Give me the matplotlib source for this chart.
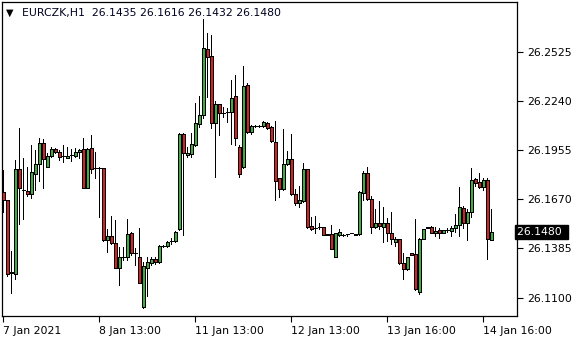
import numpy as np
import matplotlib.pyplot as plt
from matplotlib.transforms import blended_transform_factory

# EURCZK H1, bars (open, high, low, close)
opens = [26.1712, 26.1666, 26.1243, 26.1237, 26.1846, 26.1724, 26.1718, 26.1701, 26.1817, 26.1875,
         26.1996, 26.1857, 26.1921, 26.1962, 26.1944, 26.1921, 26.1910, 26.1927, 26.1921, 26.1944,
         26.1962, 26.1736, 26.1967, 26.1852, 26.1852, 26.1852, 26.1434, 26.1457, 26.1417, 26.1271,
         26.1335, 26.1335, 26.1475, 26.1358, 26.1335, 26.1045, 26.1271, 26.1300, 26.1324, 26.1306,
         26.1399, 26.1399, 26.1428, 26.1428, 26.1498, 26.2049, 26.1927, 26.1933, 26.1985, 26.2107,
         26.2159, 26.2541, 26.2501, 26.2112, 26.2223, 26.2170, 26.2176, 26.2176, 26.2269, 26.1973,
         26.1857, 26.2333, 26.2060, 26.2095, 26.2095, 26.2095, 26.2112, 26.2089, 26.2002, 26.1793,
         26.1730, 26.1875, 26.1904, 26.1701, 26.1649, 26.1660, 26.1846, 26.1515, 26.1504, 26.1509,
         26.1509, 26.1469, 26.1469, 26.1335, 26.1463, 26.1463, 26.1469, 26.1475, 26.1469, 26.1469,
         26.1707, 26.1823, 26.1672, 26.1509, 26.1533, 26.1509, 26.1533, 26.1475, 26.1422, 26.1440,
         26.1300, 26.1266, 26.1358, 26.1353, 26.1132, 26.1440, 26.1509, 26.1509, 26.1475, 26.1492,
         26.1475, 26.1492, 26.1486, 26.1503, 26.1521, 26.1620, 26.1533, 26.1596, 26.1788, 26.1770,
         26.1741, 26.1782, 26.1435]
highs = [26.1840, 26.1668, 26.1370, 26.1898, 26.2084, 26.1910, 26.1857, 26.1985, 26.1956, 26.2025,
         26.2019, 26.1939, 26.1973, 26.1967, 26.1956, 26.1985, 26.1973, 26.1962, 26.1967, 26.1962,
         26.2025, 26.1967, 26.2043, 26.1944, 26.1857, 26.1853, 26.1498, 26.1573, 26.1550, 26.1393,
         26.1393, 26.1556, 26.1480, 26.1387, 26.1504, 26.1306, 26.1335, 26.1335, 26.1335, 26.1405,
         26.1404, 26.1428, 26.1446, 26.1486, 26.2054, 26.2054, 26.1973, 26.2054, 26.2228, 26.2269,
         26.2715, 26.2634, 26.2623, 26.2240, 26.2224, 26.2205, 26.2199, 26.2362, 26.2391, 26.1985,
         26.2443, 26.2344, 26.2101, 26.2101, 26.2101, 26.2124, 26.2118, 26.2095, 26.2124, 26.1794,
         26.2078, 26.1950, 26.2049, 26.1730, 26.1747, 26.1881, 26.1847, 26.1567, 26.1573, 26.1533,
         26.1510, 26.1470, 26.1521, 26.1476, 26.1498, 26.1466, 26.1470, 26.1477, 26.1470, 26.1718,
         26.1834, 26.1857, 26.1689, 26.1614, 26.1660, 26.1625, 26.1562, 26.1596, 26.1451, 26.1442,
         26.1358, 26.1337, 26.1360, 26.1556, 26.1446, 26.1500, 26.1510, 26.1515, 26.1509, 26.1503,
         26.1493, 26.1503, 26.1515, 26.1585, 26.1741, 26.1631, 26.1614, 26.1852, 26.1794, 26.1823,
         26.1794, 26.1794, 26.1616]
lows = [26.1596, 26.1225, 26.1127, 26.1208, 26.1527, 26.1556, 26.1689, 26.1678, 26.1724, 26.1776,
        26.1736, 26.1855, 26.1915, 26.1939, 26.1898, 26.1886, 26.1908, 26.1892, 26.1915, 26.1910,
        26.1734, 26.1734, 26.1823, 26.1794, 26.1567, 26.1428, 26.1364, 26.1411, 26.1269, 26.1173,
        26.1318, 26.1318, 26.1347, 26.1289, 26.1182, 26.1039, 26.1109, 26.1289, 26.1295, 26.1300,
        26.1396, 26.1393, 26.1411, 26.1422, 26.1492, 26.1463, 26.1915, 26.1915, 26.1979, 26.2089,
        26.2141, 26.2263, 26.2083, 26.1799, 26.2043, 26.2147, 26.2118, 26.1991, 26.1985, 26.1799,
        26.1852, 26.2054, 26.2049, 26.2090, 26.2090, 26.2089, 26.2080, 26.2002, 26.1666, 26.1683,
        26.1724, 26.1869, 26.1695, 26.1637, 26.1625, 26.1654, 26.1503, 26.1492, 26.1475, 26.1498,
        26.1462, 26.1460, 26.1380, 26.1333, 26.1457, 26.1459, 26.1457, 26.1472, 26.1460, 26.1463,
        26.1666, 26.1666, 26.1475, 26.1503, 26.1498, 26.1422, 26.1428, 26.1411, 26.1399, 26.1295,
        26.1208, 26.1260, 26.1345, 26.1144, 26.1121, 26.1439, 26.1501, 26.1474, 26.1457, 26.1446,
        26.1474, 26.1480, 26.1457, 26.1480, 26.1457, 26.1503, 26.1434, 26.1567, 26.1747, 26.1736,
        26.1724, 26.1323, 26.1432]
closes = [26.1666, 26.1237, 26.1248, 26.1846, 26.1736, 26.1722, 26.1701, 26.1828, 26.1875, 26.1996,
          26.1904, 26.1921, 26.1962, 26.1944, 26.1915, 26.1920, 26.1921, 26.1928, 26.1944, 26.1956,
          26.1736, 26.1962, 26.1846, 26.1850, 26.1850, 26.1434, 26.1457, 26.1417, 26.1271, 26.1335,
          26.1337, 26.1469, 26.1358, 26.1356, 26.1184, 26.1283, 26.1306, 26.1324, 26.1306, 26.1399,
          26.1400, 26.1422, 26.1429, 26.1480, 26.2049, 26.1939, 26.1939, 26.1991, 26.2112, 26.2159,
          26.2547, 26.2495, 26.2112, 26.2223, 26.2170, 26.2171, 26.2177, 26.2257, 26.2025, 26.1817,
          26.2327, 26.2060, 26.2095, 26.2096, 26.2096, 26.2118, 26.2083, 26.2008, 26.1776, 26.1730,
          26.1875, 26.1904, 26.1701, 26.1649, 26.1666, 26.1846, 26.1509, 26.1498, 26.1503, 26.1508,
          26.1463, 26.1463, 26.1382, 26.1475, 26.1480, 26.1462, 26.1468, 26.1474, 26.1463, 26.1712,
          26.1823, 26.1672, 26.1509, 26.1533, 26.1515, 26.1533, 26.1475, 26.1440, 26.1440, 26.1300,
          26.1266, 26.1335, 26.1347, 26.1150, 26.1440, 26.1498, 26.1503, 26.1475, 26.1486, 26.1475,
          26.1492, 26.1493, 26.1503, 26.1521, 26.1625, 26.1533, 26.1596, 26.1782, 26.1765, 26.1741,
          26.1782, 26.1440, 26.1480]

price_ticks = [26.1100, 26.1385, 26.1670, 26.1955, 26.2240, 26.2525]
time_tick_bars = [0, 24, 48, 72, 96, 120]
time_labels = ["7 Jan 2021", "8 Jan 13:00", "11 Jan 13:00", "12 Jan 13:00", "13 Jan 16:00", "14 Jan 16:00"]
symbol = "EURCZK,H1"

o = np.array(opens)
h = np.array(highs)
l = np.array(lows)
c = np.array(closes)
x = np.arange(len(o))

BULL = "#3fae3f"
BEAR = "#d42222"
FS = 7.8

fig = plt.figure(figsize=(5.8, 3.4), dpi=100)
ax = fig.add_axes([2 / 580, 24 / 340, 515 / 580, 314 / 340])

# wicks, then bodies on top
ax.vlines(x, l, h, color="black", lw=0.6, antialiased=False, zorder=2)
cols = np.where(c >= o, BULL, BEAR)
ax.bar(x, np.abs(c - o), bottom=np.minimum(o, c), width=0.62, color=cols,
       edgecolor="black", lw=0.6, antialiased=False, zorder=3)

ax.set_xlim(-0.33, 128.4)
ax.set_ylim(26.0993, 26.2814)

for s in ax.spines.values():
    s.set_color("black")
    s.set_linewidth(0.9)

ax.yaxis.tick_right()
ax.set_yticks(price_ticks)
ax.set_yticklabels([f"{p:.4f}" for p in price_ticks])
ax.tick_params(axis="y", direction="out", length=4, width=0.8, pad=3, labelsize=FS)

ax.set_xticks(time_tick_bars)
ax.set_xticklabels(time_labels, ha="left")
ax.tick_params(axis="x", direction="out", length=4, width=0.8, pad=3, labelsize=FS)

# current price box on the price scale
trans = blended_transform_factory(ax.transAxes, ax.transData)
ax.text(1.0, closes[-1], f"{closes[-1]:.4f} ", transform=trans, ha="left", va="center",
        fontsize=FS, color="white",
        bbox=dict(boxstyle="square,pad=0.22", fc="black", ec="black"), clip_on=False, zorder=5)

# header line
ax.text(0.008, 0.965, "\u25bc", transform=ax.transAxes, fontsize=7, va="center", ha="left")
header = f"{symbol}  {opens[-1]:.4f} {highs[-1]:.4f} {lows[-1]:.4f} {closes[-1]:.4f}"
ax.text(0.038, 0.965, header, transform=ax.transAxes, fontsize=FS, va="center", ha="left",
        color="#000020")

fig.savefig("out.png", dpi=100)
